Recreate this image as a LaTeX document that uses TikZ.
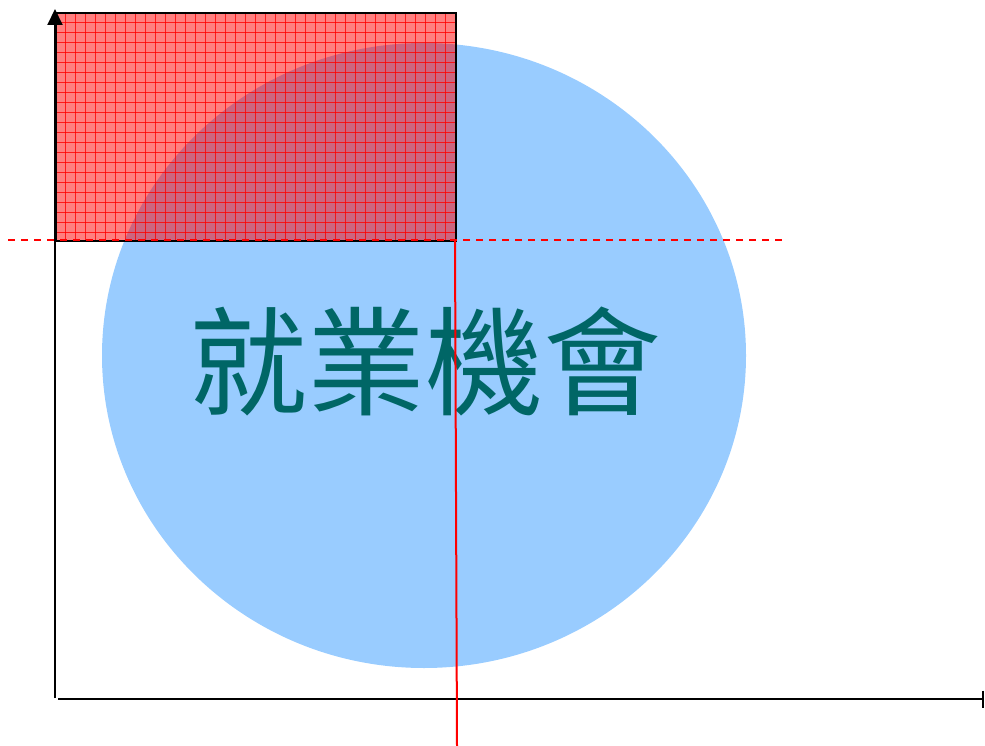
\documentclass[tikz,border=0pt]{standalone}
\usepackage{fontspec}
\newfontfamily\cjk{Noto Sans CJK TC}
\usetikzlibrary{arrows.meta,shapes.geometric}
\definecolor{skyblue}{HTML}{99CCFF}
\definecolor{tealtext}{HTML}{006666}
\tikzset{
  axisline/.style={line width=2pt,black},
  redline/.style={line width=2pt,red},
  gridline/.style={red, line width=0.6pt, opacity=0.8},
}
\begin{document}
\begin{tikzpicture}[x=1pt,y=-1pt]
\useasboundingbox (0,0) rectangle (985,746);
% circle
\node[ellipse, fill=skyblue, minimum width=644pt, minimum height=625pt, inner sep=0pt] (circ) at (424,355.5) {};
% red rectangle
\fill[red, opacity=0.5] (55,12) rectangle (455,240);
\foreach \gx in {65,75,...,445} {\draw[gridline] (\gx,12) -- (\gx,240);}
\foreach \gy in {22,32,...,232} {\draw[gridline] (55,\gy) -- (455,\gy);}
\node[draw=black, line width=2pt, minimum width=400pt, minimum height=228pt, inner sep=0pt, anchor=north west] (rect) at (55,12) {};
% text
\node[text=tealtext, font=\cjk\fontsize{118}{118}\selectfont, inner sep=0pt] (label) at (425,362) {就業機會};
% coordinates
\coordinate (yb) at (55,698);
\coordinate (yt) at (55,9);
\coordinate (xl) at (58,699);
\coordinate (xr) at (984,699);
\coordinate (dl) at (8,240);
\coordinate (dr) at (788,240);
\coordinate (vt) at (455,240);
\coordinate (vb) at (457,746);
% axes
\draw[axisline, -{Triangle[length=16pt,width=15pt]}] (yb) -- (yt);
\draw[axisline, -{Bar[width=17pt,line width=2pt]}] (xl) -- (xr);
% red guides
\draw[redline, line width=1.5pt, dash pattern=on 7pt off 6pt] (dl) -- (dr);
\draw[redline] (vt) -- (vb);
\end{tikzpicture}
\end{document}
